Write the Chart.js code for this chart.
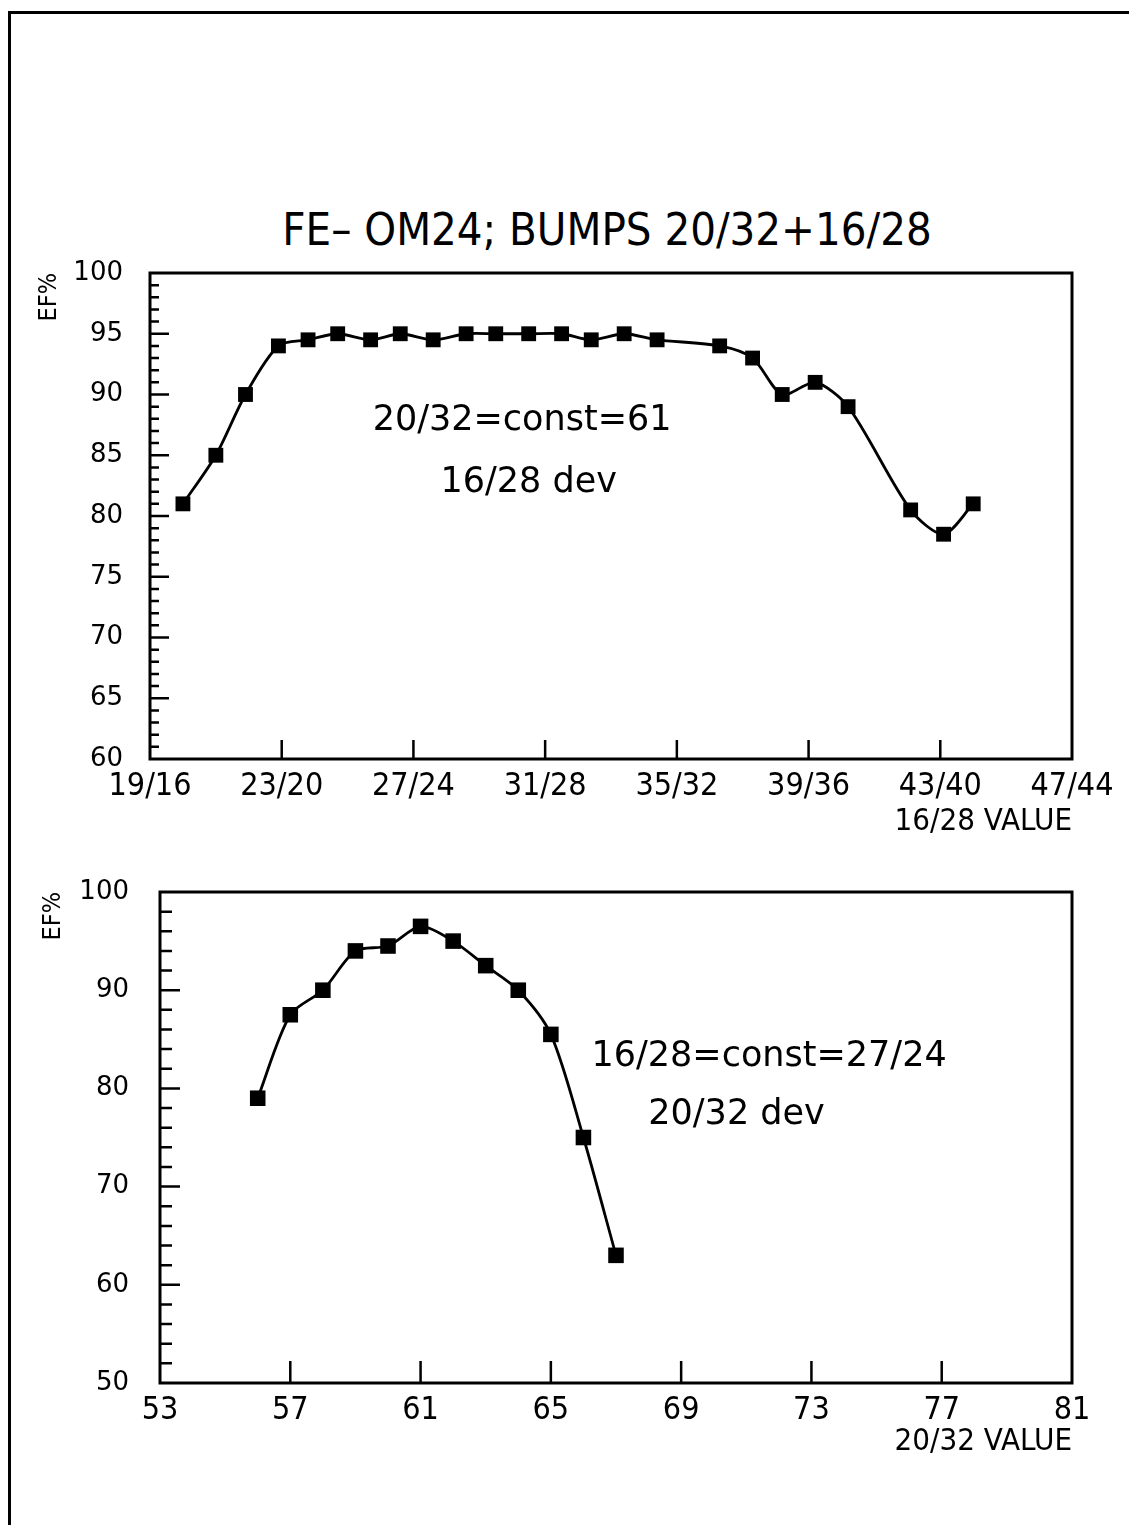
<!DOCTYPE html>
<html>
<head>
<meta charset="utf-8">
<script src="https://cdn.jsdelivr.net/npm/chart.js@4.4.1/dist/chart.umd.min.js"></script>
<style>
  html, body { margin: 0; padding: 0; background: #fff; }
  body { width: 1129px; height: 1525px; position: relative; overflow: hidden; font-family: "DejaVu Sans", sans-serif; }
  .frame-top { position: absolute; left: 8px; top: 11px; width: 1121px; border-top: 3px solid #000; }
  .frame-left { position: absolute; left: 8px; top: 11px; height: 1514px; border-left: 3px solid #000; }
  #title { position: absolute; left: 0; top: 200px; width: 1214px; text-align: center; color: #000;
           font-family: "DejaVu Sans Condensed", "DejaVu Sans", sans-serif; font-size: 45px; line-height: 60px; }
  canvas { position: absolute; left: 0; }
  #chart1 { top: 240px; }
  #chart2 { top: 860px; }
</style>
</head>
<body>
<div class="frame-top"></div>
<div class="frame-left"></div>
<div id="title">FE– OM24; BUMPS 20/32+16/28</div>
<canvas id="chart1" width="1129" height="610"></canvas>
<canvas id="chart2" width="1129" height="620"></canvas>
<script>
// top panel: 20/32 held at 61, 16/28 varied
const ratio1628 = [20.0, 21.0, 21.9, 22.9, 23.8, 24.7, 25.7, 26.6, 27.6, 28.6, 29.5, 30.5,
  31.5, 32.4, 33.4, 34.4, 36.3, 37.3, 38.2, 39.2, 40.2, 42.1, 43.1, 44.0];
const ef1628 = [81, 85, 90, 94, 94.5, 95, 94.5, 95, 94.5, 95, 95, 95,
  95, 94.5, 95, 94.5, 94, 93, 90, 91, 89, 80.5, 78.5, 81];
const ticks1628 = [19, 23, 27, 31, 35, 39, 43, 47];
const labels1628 = ["19/16", "23/20", "27/24", "31/28", "35/32", "39/36", "43/40", "47/44"];

// bottom panel: 16/28 held at 27/24, 20/32 varied
const ratio2032 = [56, 57, 58, 59, 60, 61, 62, 63, 64, 65, 66, 67];
const ef2032 = [79, 87.5, 90, 94, 94.5, 96.5, 95, 92.5, 90, 85.5, 75, 63];
const ticks2032 = [53, 57, 61, 65, 69, 73, 77, 81];

const condensed = '"DejaVu Sans Condensed", "DejaVu Sans", sans-serif';
const plain = '"DejaVu Sans", sans-serif';

// box around the plot, inward tick marks and the text notes
const plotDecor = {
  id: "plotDecor",
  afterDraw(chart, args, opts) {
    const { ctx, chartArea: a } = chart;
    const x = chart.scales.x, y = chart.scales.y;
    ctx.save();
    ctx.strokeStyle = "#000";
    ctx.lineWidth = 3;
    ctx.strokeRect(a.left, a.top, a.right - a.left, a.bottom - a.top);
    ctx.beginPath();
    let n = Math.round((y.max - y.min) / opts.yMinor);
    for (let i = 1; i < n; i++) {
      let v = y.min + i * opts.yMinor;
      let py = y.getPixelForValue(v);
      let len = (v - y.min) % opts.yMajor === 0 ? opts.majorLen : opts.minorLen;
      ctx.moveTo(a.left, py);
      ctx.lineTo(a.left + len, py);
    }
    x.ticks.forEach(t => {
      if (t.value <= x.min || t.value >= x.max) return;
      let px = x.getPixelForValue(t.value);
      ctx.moveTo(px, a.bottom);
      ctx.lineTo(px, a.bottom - opts.xLen);
    });
    ctx.lineWidth = 2.5;
    ctx.stroke();
    ctx.fillStyle = "#000";
    ctx.font = "35px " + plain;
    ctx.textAlign = "center";
    ctx.textBaseline = "middle";
    opts.notes.forEach(nt => {
      ctx.fillText(nt.text, x.getPixelForValue(nt.x), y.getPixelForValue(nt.y));
    });
    ctx.restore();
  }
};

function makeChart(id, xs, ys, xMin, xMax, xTicks, xLabel, xTitle, yMin, yMax, yStep, cfg) {
  const points = xs.map((v, i) => ({ x: v, y: ys[i] }));
  return new Chart(document.getElementById(id), {
    type: "line",
    data: {
      datasets: [{
        data: points,
        borderColor: "#000",
        borderWidth: 2.8,
        backgroundColor: "#000",
        pointStyle: "rect",
        pointRadius: cfg.pointRadius,
        pointBackgroundColor: "#000",
        pointBorderWidth: 0,
        tension: 0.28,
        fill: false
      }]
    },
    options: {
      responsive: false,
      animation: false,
      layout: { padding: { top: cfg.padTop, right: 57, left: 0, bottom: 0 } },
      plugins: {
        legend: { display: false },
        tooltip: { enabled: false },
        plotDecor: cfg.decor
      },
      scales: {
        x: {
          type: "linear",
          min: xMin,
          max: xMax,
          afterBuildTicks: s => { s.ticks = xTicks.map(v => ({ value: v })); },
          afterFit: s => { s.height = cfg.xHeight; s.paddingLeft = 0; s.paddingRight = 0; },
          grid: { display: false, drawTicks: false },
          border: { display: false },
          ticks: {
            autoSkip: false,
            maxRotation: 0,
            padding: 8,
            color: "#000",
            font: { family: condensed, size: 32 },
            callback: xLabel
          },
          title: {
            display: true,
            text: xTitle,
            align: "end",
            color: "#000",
            font: { family: condensed, size: 31 },
            padding: { top: 0, bottom: cfg.xTitlePad }
          }
        },
        y: {
          min: yMin,
          max: yMax,
          afterFit: s => { s.width = cfg.yWidth; s.paddingTop = 0; s.paddingBottom = 0; },
          grid: { display: false, drawTicks: false },
          border: { display: false },
          ticks: {
            stepSize: yStep,
            padding: cfg.yPad,
            color: "#000",
            font: { family: plain, size: 26 }
          },
          title: {
            display: true,
            text: "EF%",
            align: "end",
            color: "#000",
            font: { family: condensed, size: 25 },
            padding: { top: cfg.yTitlePad, bottom: 0 }
          }
        }
      }
    },
    plugins: [plotDecor]
  });
}

makeChart("chart1", ratio1628, ef1628, 19, 47, ticks1628,
  v => labels1628[ticks1628.indexOf(v)], "16/28 VALUE", 60, 100, 5, {
    pointRadius: 10.5, padTop: 33, xHeight: 91, yWidth: 150, yPad: 27,
    xTitlePad: 9, yTitlePad: 34,
    decor: {
      yMinor: 1, yMajor: 5, minorLen: 9, majorLen: 19, xLen: 19,
      notes: [
        { text: "20/32=const=61", x: 30.3, y: 87.8 },
        { text: "16/28 dev", x: 30.5, y: 82.7 }
      ]
    }
  });

makeChart("chart2", ratio2032, ef2032, 53, 81, ticks2032,
  v => String(v), "20/32 VALUE", 50, 100, 10, {
    pointRadius: 11, padTop: 32, xHeight: 97, yWidth: 160, yPad: 31,
    xTitlePad: 19, yTitlePad: 38,
    decor: {
      yMinor: 2, yMajor: 10, minorLen: 12, majorLen: 20, xLen: 22,
      notes: [
        { text: "16/28=const=27/24", x: 71.7, y: 83.2 },
        { text: "20/32 dev", x: 70.7, y: 77.3 }
      ]
    }
  });
</script>
</body>
</html>
